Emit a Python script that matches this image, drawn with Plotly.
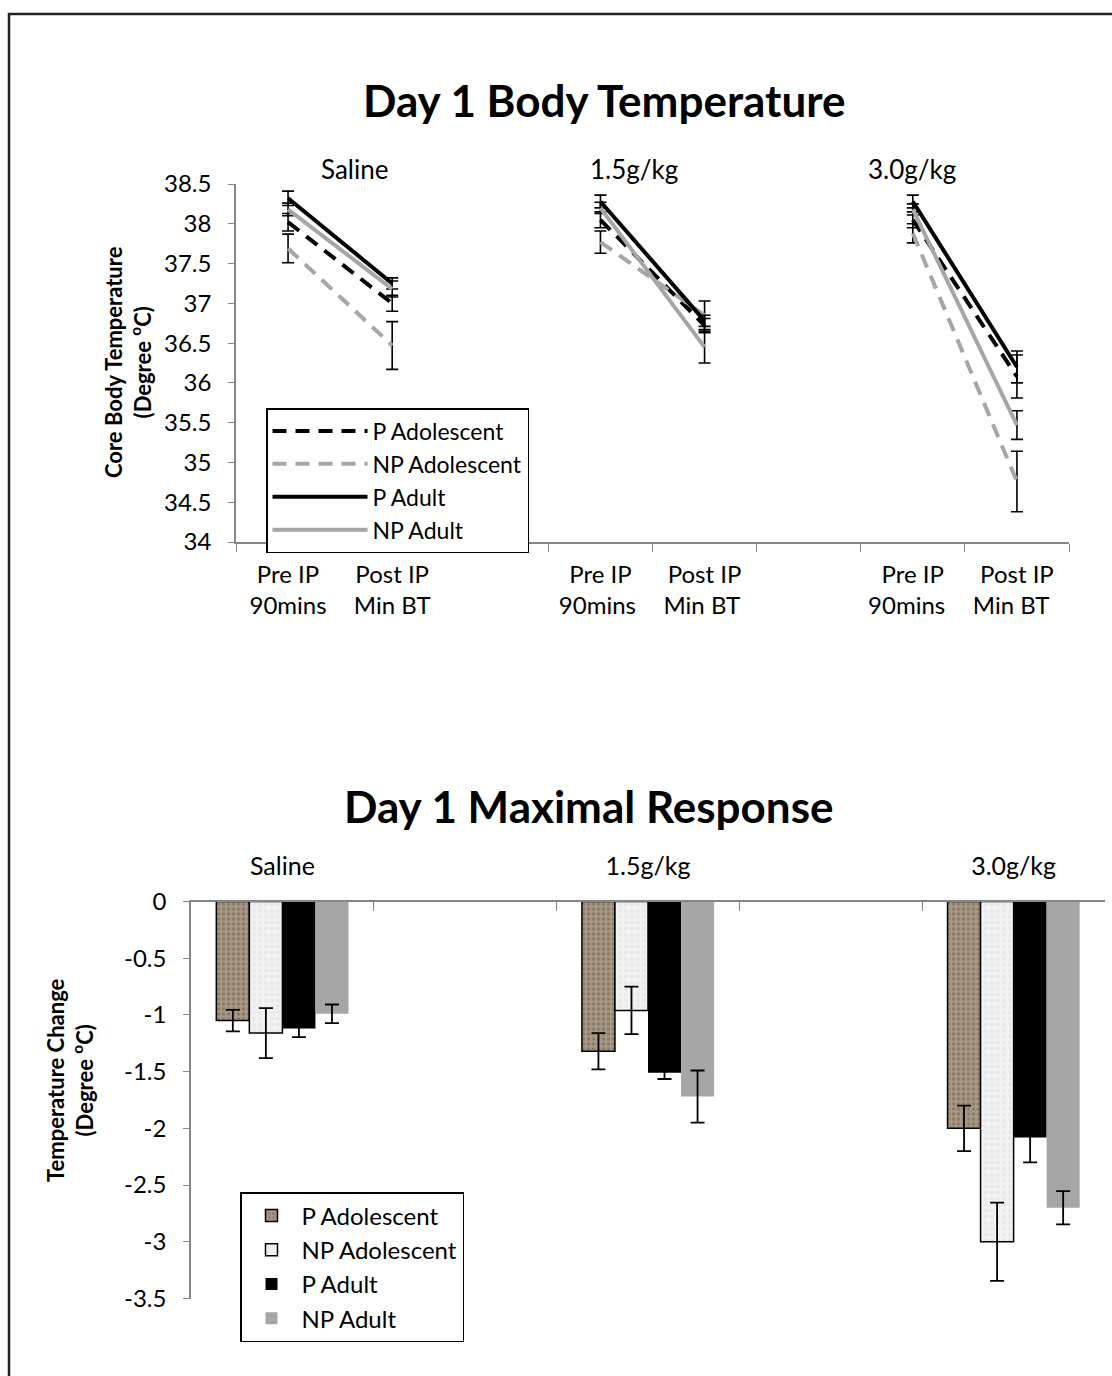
import plotly.graph_objects as go

# ---------------- data: top chart (Day 1 Body Temperature) ----------------
top_cats = ["Pre IP<br>90mins", "Post IP<br>Min BT", " ",
            "Pre IP<br>90mins ", "Post IP<br>Min BT ", "  ",
            "Pre IP<br>90mins  ", "Post IP<br>Min BT  "]
dose_labels = ["Saline", "1.5g/kg", "3.0g/kg"]
series_names = ["P Adolescent", "NP Adolescent", "P Adult", "NP Adult"]

p_adol_bt = [38.02, 37.00, None, 38.05, 36.72, None, 38.05, 36.08]
np_adol_bt = [37.69, 36.47, None, 37.77, 36.85, None, 37.88, 34.76]
p_adult_bt = [38.32, 37.25, None, 38.28, 36.78, None, 38.28, 36.20]
np_adult_bt = [38.18, 37.18, None, 38.20, 36.45, None, 38.18, 35.47]

p_adol_bt_err = [0.11, 0.10, None, 0.10, 0.09, None, 0.10, 0.27]
np_adol_bt_err = [0.18, 0.30, None, 0.14, 0.18, None, 0.12, 0.38]
p_adult_bt_err = [0.09, 0.07, None, 0.08, 0.07, None, 0.08, 0.20]
np_adult_bt_err = [0.08, 0.10, None, 0.07, 0.20, None, 0.07, 0.18]

top_y_ticks = [34, 34.5, 35, 35.5, 36, 36.5, 37, 37.5, 38, 38.5]

# ---------------- data: bottom chart (Day 1 Maximal Response) ----------------
bar_cats = ["Saline", " ", "1.5g/kg", "  ", "3.0g/kg"]
bar_x = ["Saline", "1.5g/kg", "3.0g/kg"]
p_adol_chg = [-1.05, -1.32, -2.00]
np_adol_chg = [-1.16, -0.96, -3.00]
p_adult_chg = [-1.12, -1.51, -2.08]
np_adult_chg = [-0.99, -1.72, -2.70]

p_adol_chg_err = [0.095, 0.16, 0.20]
np_adol_chg_err = [0.22, 0.21, 0.345]
p_adult_chg_err = [0.075, 0.055, 0.22]
np_adult_chg_err = [0.082, 0.23, 0.146]

bot_y_ticks = [0, -0.5, -1, -1.5, -2, -2.5, -3, -3.5]
bot_y_labels = ["0", "-0.5", "-1", "-1.5", "-2", "-2.5", "-3", "-3.5"]

# ---------------- figure ----------------
FONT = "Lato"
W, H = 1112, 1376
TICK = 24
fig = go.Figure()

line_styles = [
    ("black", "14px,9px"),
    ("#a6a6a6", "14px,9px"),
    ("black", "solid"),
    ("#a6a6a6", "solid"),
]
top_vals = [p_adol_bt, np_adol_bt, p_adult_bt, np_adult_bt]
top_errs = [p_adol_bt_err, np_adol_bt_err, p_adult_bt_err, np_adult_bt_err]

for name, (col, dash), vals, errs in zip(series_names, line_styles, top_vals, top_errs):
    fig.add_trace(go.Scatter(
        x=top_cats, y=vals, name=name, mode="lines",
        line=dict(color=col, width=4, dash=dash),
        connectgaps=False,
        error_y=dict(type="data", array=errs, visible=True,
                     color="black", thickness=1.6, width=6),
        xaxis="x", yaxis="y", legend="legend",
    ))

bar_vals = [p_adol_chg, np_adol_chg, p_adult_chg, np_adult_chg]
bar_errs = [p_adol_chg_err, np_adol_chg_err, p_adult_chg_err, np_adult_chg_err]
bar_markers = [
    dict(color="#a39382", line=dict(color="black", width=1.5),
         pattern=dict(shape=".", fgcolor="#6a5a4c", bgcolor="#a89886",
                      size=5, solidity=0.35, fillmode="overlay")),
    dict(color="#eeeeee", line=dict(color="black", width=1.5),
         pattern=dict(shape=".", fgcolor="#d9d9d9", bgcolor="#f2f2f2",
                      size=6, solidity=0.3, fillmode="overlay")),
    dict(color="black", line=dict(color="black", width=0)),
    dict(color="#a6a6a6", line=dict(color="#a6a6a6", width=0)),
]
for name, mk, vals, errs in zip(series_names, bar_markers, bar_vals, bar_errs):
    fig.add_trace(go.Bar(
        x=bar_x, y=vals, name=name, marker=mk,
        error_y=dict(type="data", array=errs, visible=True,
                     color="black", thickness=1.8, width=7),
        xaxis="x2", yaxis="y2", legend="legend2",
    ))

axis_gray = "#868686"
fig.update_layout(
    width=W, height=H,
    margin=dict(l=0, r=0, t=0, b=0, autoexpand=False),
    paper_bgcolor="white", plot_bgcolor="white",
    font=dict(family=FONT, size=TICK, color="black"),
    showlegend=True,
    barmode="group", bargap=0.277, bargroupgap=0,
    xaxis=dict(
        domain=[236 / W, 1069 / W], anchor="y", automargin=False,
        type="category", categoryorder="array", categoryarray=top_cats,
        range=[-0.5, 7.5], tickson="boundaries",
        ticks="outside", ticklen=8, tickcolor=axis_gray,
        showline=True, linecolor=axis_gray, linewidth=1.5,
        showgrid=False, tickfont=dict(size=TICK, family=FONT),
        ticklabelstandoff=10,
    ),
    yaxis=dict(
        domain=[1 - 542 / H, 1 - 184 / H], anchor="x", automargin=False,
        range=[34, 38.5], tickvals=top_y_ticks,
        ticks="outside", ticklen=6, tickcolor=axis_gray,
        showline=True, linecolor=axis_gray, linewidth=1.5,
        showgrid=False, zeroline=False, tickfont=dict(size=TICK, family=FONT),
        ticklabelstandoff=12,
    ),
    xaxis2=dict(
        domain=[191 / W, 1105 / W], anchor="y2", side="top", automargin=False,
        type="category", categoryorder="array", categoryarray=bar_cats,
        range=[-0.5, 4.5], tickson="boundaries",
        ticks="inside", ticklen=10, tickcolor=axis_gray,
        showline=True, linecolor=axis_gray, linewidth=1.5,
        showgrid=False, tickfont=dict(size=25, family=FONT),
        ticklabelstandoff=15,
    ),
    yaxis2=dict(
        domain=[1 - 1298.5 / H, 1 - 901.5 / H], anchor="x2", automargin=False,
        range=[-3.5, 0], tickvals=bot_y_ticks, ticktext=bot_y_labels,
        ticks="outside", ticklen=6, tickcolor=axis_gray,
        showline=True, linecolor=axis_gray, linewidth=1.5,
        showgrid=False, zeroline=False, tickfont=dict(size=TICK, family=FONT),
        ticklabelstandoff=12,
    ),
    legend=dict(
        x=266 / W, y=1 - 408 / H, xanchor="left", yanchor="top",
        bordercolor="black", borderwidth=1.5, bgcolor="white",
        font=dict(size=23, family=FONT), tracegroupgap=0, itemwidth=95,
    ),
    legend2=dict(
        x=240 / W, y=1 - 1192 / H, xanchor="left", yanchor="top",
        bordercolor="black", borderwidth=1.5, bgcolor="white",
        font=dict(size=TICK, family=FONT), tracegroupgap=0, itemwidth=50,
    ),
)

annots = [
    dict(text="<b>Day 1 Body Temperature</b>", x=604 / W, y=1 - 100 / H,
         font=dict(size=44, family=FONT)),
    dict(text="<b>Day 1 Maximal Response</b>", x=588 / W, y=1 - 806 / H,
         font=dict(size=44, family=FONT)),
    dict(text=dose_labels[0], x=354 / W, y=1 - 169 / H, font=dict(size=26, family=FONT)),
    dict(text=dose_labels[1], x=634 / W, y=1 - 169 / H, font=dict(size=26, family=FONT)),
    dict(text=dose_labels[2], x=912 / W, y=1 - 169 / H, font=dict(size=26, family=FONT)),
    dict(text="<b>Core Body Temperature<br>(Degree <sup>o</sup>C)</b>",
         x=128 / W, y=1 - 362 / H, textangle=-90, font=dict(size=22, family=FONT)),
    dict(text="<b>Temperature Change<br>(Degree <sup>o</sup>C)</b>",
         x=70 / W, y=1 - 1080 / H, textangle=-90, font=dict(size=22, family=FONT)),
]
for a in annots:
    fig.add_annotation(xref="paper", yref="paper", showarrow=False,
                       xanchor="center", yanchor="middle", **a)

# outer frame
fig.add_shape(type="rect", xref="paper", yref="paper",
              x0=9 / W, x1=1.02, y0=-0.02, y1=1 - 14 / H,
              line=dict(color="#222222", width=2.5), fillcolor="rgba(0,0,0,0)")

fig.write_html("out.html",
               config={"displayModeBar": False},
               post_script="document.body.style.margin='0';document.body.style.padding='0';")
